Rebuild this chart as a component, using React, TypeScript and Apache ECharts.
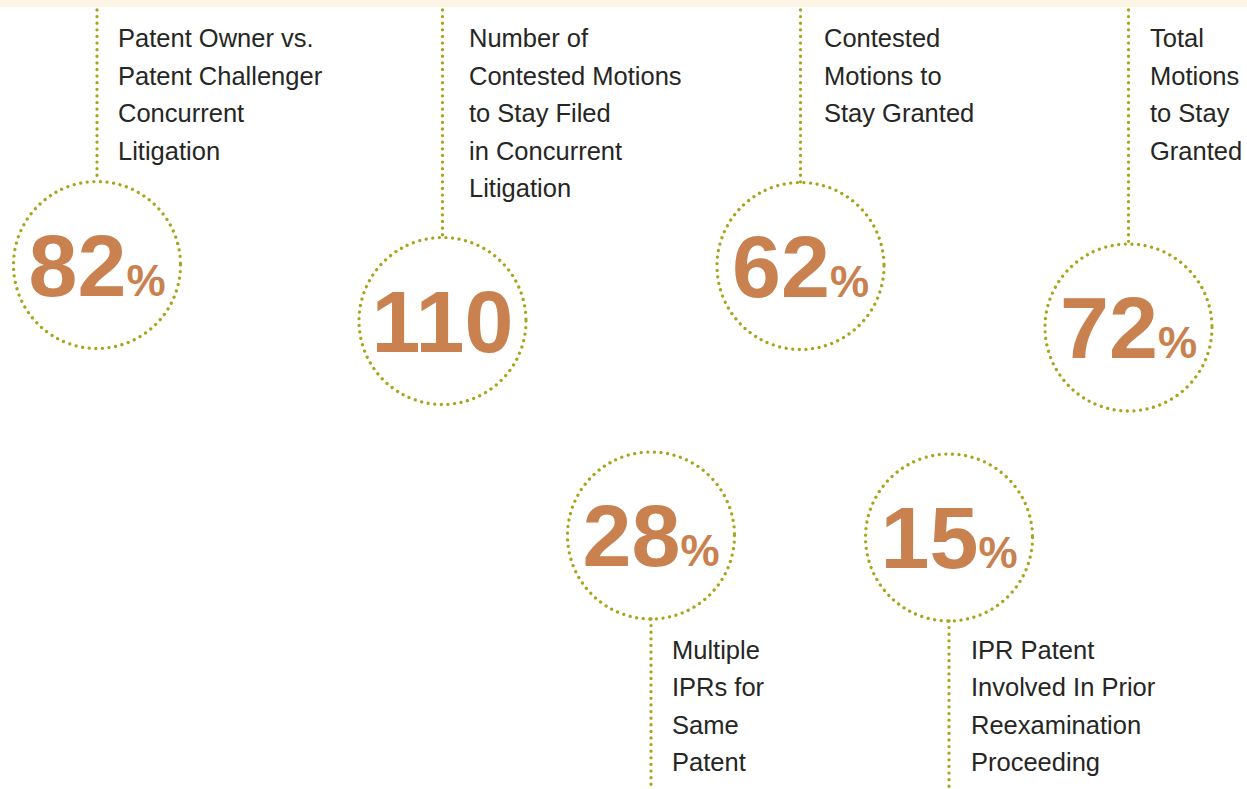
import React, { useEffect, useRef } from "react";
import * as echarts from "echarts";

// ---- data ----
const statValues: number[] = [82, 110, 62, 72, 28, 15];
const statUnits: string[] = ["%", "", "%", "%", "%", "%"];
const statLabels: string[][] = [
  ["Patent Owner vs.", "Patent Challenger", "Concurrent", "Litigation"],
  ["Number of", "Contested Motions", "to Stay Filed", "in Concurrent", "Litigation"],
  ["Contested", "Motions to", "Stay Granted"],
  ["Total", "Motions", "to Stay", "Granted"],
  ["Multiple", "IPRs for", "Same", "Patent"],
  ["IPR Patent", "Involved In Prior", "Reexamination", "Proceeding"],
];

// ---- layout (positions only) ----
const layoutCx = [97, 442.5, 800.5, 1128.5, 651, 949];
const layoutCy = [265, 321, 266, 327.5, 535.5, 537.5];
const layoutDir = ["up", "up", "up", "up", "down", "down"];
const layoutLabelX = [118, 469, 824, 1150, 672, 971];

const W = 1247;
const H = 789;
const R = 83.5;
const DOT = "#a8a51c";
const NUM = "#c98150";
const TXT = "#262624";
const FAMILY = "'Liberation Sans', Arial, Helvetica, sans-serif";
const NUM_SIZE = 88;
const PCT_SIZE = 44;
const LABEL_SIZE = 25.5;
const LINE_H = 37.5;

function measure(text: string, size: number, weight: string): number {
  const c = document.createElement("canvas").getContext("2d");
  if (!c) return text.length * size * 0.55;
  c.font = `${weight} ${size}px ${FAMILY}`;
  return c.measureText(text).width;
}

export default function App() {
  const ref = useRef<HTMLDivElement>(null);
  useEffect(() => {
    if (!ref.current) return;
    const chart = echarts.init(ref.current, undefined, { renderer: "svg" });
    const elements: any[] = [
      { type: "rect", shape: { x: 0, y: 0, width: W, height: 7 }, style: { fill: "#fcf4e4" } },
    ];
    const dotStyle = {
      fill: "none",
      stroke: DOT,
      lineWidth: 3.3,
      lineDash: [0.01, 6.6],
      lineCap: "round",
    };
    statValues.forEach((v, i) => {
      const cx = layoutCx[i];
      const cy = layoutCy[i];
      const up = layoutDir[i] === "up";
      elements.push({
        type: "circle",
        shape: { cx, cy, r: R },
        style: { ...dotStyle },
      });
      elements.push({
        type: "line",
        shape: up
          ? { x1: cx, y1: 10, x2: cx, y2: cy - R }
          : { x1: cx, y1: cy + R, x2: cx, y2: H },
        style: { ...dotStyle },
      });
      const numText = String(v);
      const unit = statUnits[i];
      const wn = measure(numText, NUM_SIZE, "bold");
      const wp = unit ? measure(unit, PCT_SIZE, "bold") : 0;
      const startX = cx - (wn + wp) / 2;
      const baseline = cy + 0.3465 * NUM_SIZE;
      elements.push({
        type: "text",
        x: startX,
        y: cy,
        style: {
          text: numText,
          fontSize: NUM_SIZE,
          fontFamily: FAMILY,
          fontWeight: "bold",
          fill: NUM,
          align: "left",
          verticalAlign: "middle",
        },
      });
      if (unit) {
        elements.push({
          type: "text",
          x: startX + wn,
          y: baseline - 0.3465 * PCT_SIZE,
          style: {
            text: unit,
            fontSize: PCT_SIZE,
            fontFamily: FAMILY,
            fontWeight: "bold",
            fill: NUM,
            align: "left",
            verticalAlign: "middle",
          },
        });
      }
      const firstLine = up ? 38 : 649.5;
      elements.push({
        type: "text",
        x: layoutLabelX[i],
        y: firstLine - LINE_H / 2,
        style: {
          text: statLabels[i].join("\n"),
          fontSize: LABEL_SIZE,
          fontFamily: FAMILY,
          fontWeight: "normal",
          lineHeight: LINE_H,
          fill: TXT,
          align: "left",
          verticalAlign: "top",
        },
      });
    });
    chart.setOption({
      animation: false,
      backgroundColor: "#ffffff",
      graphic: { elements },
    });
    return () => chart.dispose();
  }, []);
  return (
    <div
      ref={ref}
      style={{ position: "fixed", left: 0, top: 0, width: W, height: H, background: "#fff" }}
    />
  );
}
